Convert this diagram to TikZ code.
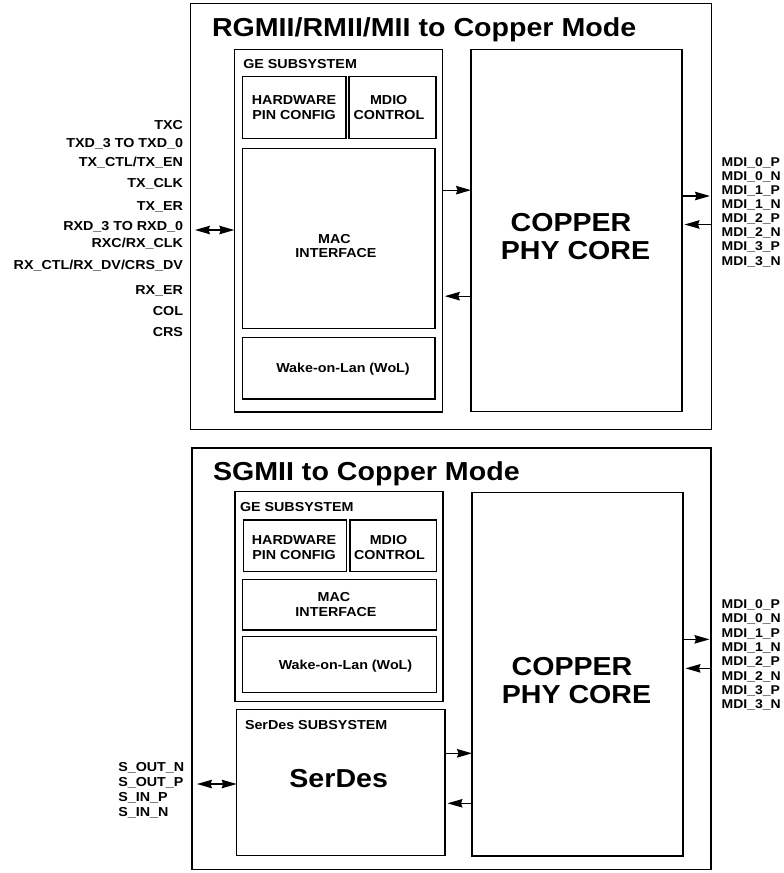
\documentclass[tikz,border=0pt]{standalone}
\usepackage{fontspec}
\setmainfont{Liberation Sans}[FakeStretch=1.1]
\usetikzlibrary{arrows.meta}
\newcommand\fsz[1]{\fontsize{#1}{#1}\selectfont}
\begin{document}
\begin{tikzpicture}[x=1pt,y=-1pt,
  blk/.style={draw, line width=1.5pt, inner sep=0pt, outer sep=0pt},
  txt/.style={inner sep=0pt, outer sep=0pt, font=\bfseries\fsz{13}, anchor=base},
  lft/.style={txt, anchor=base east},
  big/.style={inner sep=0pt, outer sep=0pt, font=\bfseries\fsz{26}, anchor=base},
  ttl/.style={inner sep=0pt, outer sep=0pt, font=\bfseries\fsz{26}, anchor=base west},
  mdi/.style={inner sep=0pt, outer sep=0pt, font=\bfseries\fsz{12.7}, anchor=base west},
  tip/.tip={Stealth[length=15pt,width=8.5pt,inset=1.5pt]},
  arr/.style={line width=1.3pt, -tip},
  darr/.style={line width=1.3pt, tip-tip},
]
\useasboundingbox (0,0) rectangle (784,873);

% ---------------- top diagram ----------------
\node[blk, minimum width=521pt, minimum height=426pt] (frame1) at (451,216.5) {};
\node[ttl] (title1) at (212,36.7) {RGMII/RMII/MII to Copper Mode};

\node[blk, minimum width=208pt, minimum height=362.7pt] (ge1) at (338.3,230.65) {};
\node[txt, anchor=base west] (ge1t) at (243.3,68.3) {GE SUBSYSTEM};
\node[blk, minimum width=103.3pt, minimum height=61.6pt] (hw1) at (294.35,107.5) {};
\node[txt] (hw1a) at (294,104) {HARDWARE};
\node[txt] (hw1b) at (294,119) {PIN CONFIG};
\node[blk, minimum width=87pt, minimum height=61.6pt] (mdio1) at (392.5,107.5) {};
\node[txt] (mdio1a) at (388.7,104) {MDIO};
\node[txt] (mdio1b) at (389,119) {CONTROL};
\node[blk, minimum width=192.7pt, minimum height=180pt] (mac1) at (338.65,238.3) {};
\node[txt] (mac1a) at (334.5,243.3) {MAC};
\node[txt] (mac1b) at (336,257.3) {INTERFACE};
\node[blk, minimum width=192.7pt, minimum height=61.3pt] (wol1) at (338.65,368.35) {};
\node[txt] (wol1t) at (343,372.5) {Wake-on-Lan (WoL)};

\node[blk, minimum width=211pt, minimum height=362.2pt] (phy1) at (576.5,230.4) {};
\node[big] (phy1a) at (571,231.7) {COPPER};
\node[big] (phy1b) at (575.5,259.3) {PHY CORE};

% left pin labels
\node[lft] (p1) at (183,129.3) {TXC};
\node[lft] (p2) at (183,147.3) {TXD\_3 TO TXD\_0\ };
\node[lft] (p3) at (183,166.7) {TX\_CTL/TX\_EN};
\node[lft] (p4) at (183,187.3) {TX\_CLK};
\node[lft] (p5) at (183,210) {TX\_ER};
\node[lft] (p6) at (183,230) {RXD\_3 TO RXD\_0};
\node[lft] (p7) at (183,247.7) {RXC/RX\_CLK};
\node[lft] (p8) at (183,269) {RX\_CTL/RX\_DV/CRS\_DV};
\node[lft] (p9) at (183,294) {RX\_ER};
\node[lft] (p10) at (183,315) {COL};
\node[lft] (p11) at (183,336) {CRS};

% right MDI labels
\node[mdi] (m10) at (721.7,166.0) {MDI\_0\_P};
\node[mdi] (m11) at (721.7,180.1) {MDI\_0\_N};
\node[mdi] (m12) at (721.7,194.3) {MDI\_1\_P};
\node[mdi] (m13) at (721.7,208.4) {MDI\_1\_N};
\node[mdi] (m14) at (721.7,222.6) {MDI\_2\_P};
\node[mdi] (m15) at (721.7,236.7) {MDI\_2\_N};
\node[mdi] (m16) at (721.7,250.9) {MDI\_3\_P};
\node[mdi] (m17) at (721.7,265.0) {MDI\_3\_N};

% top connectors
\coordinate (l1) at (195,230);
\draw[darr] (l1) -- (l1 -| ge1.west);
\coordinate (g1a) at ([yshift=40.5pt]ge1.east);
\coordinate (g1b) at ([yshift=-65.5pt]ge1.east);
\draw[arr] (g1a) -- (g1a -| phy1.west);
\draw[arr, shorten >=2.5pt] (g1b -| phy1.west) -- (g1b);
\coordinate (r1a) at ([yshift=34.4pt]phy1.east);
\coordinate (r1b) at ([yshift=5.9pt]phy1.east);
\draw[arr, shorten >=1.5pt] (r1a) -- (r1a -| frame1.east);
\draw[arr, shorten >=2.5pt] (r1b -| frame1.east) -- (r1b);

% ---------------- bottom diagram ----------------
\node[blk, minimum width=519pt, minimum height=421.5pt] (frame2) at (451.5,658.75) {};
\node[ttl] (title2) at (213,480) {SGMII to Copper Mode};

\node[blk, minimum width=208pt, minimum height=210pt] (ge2) at (339,596.7) {};
\node[txt, anchor=base west] (ge2t) at (240,511) {GE SUBSYSTEM};
\node[blk, minimum width=103.4pt, minimum height=51.7pt] (hw2) at (295,545.85) {};
\node[txt] (hw2a) at (294,544.3) {HARDWARE};
\node[txt] (hw2b) at (294,559) {PIN CONFIG};
\node[blk, minimum width=86.7pt, minimum height=51.7pt] (mdio2) at (393.35,545.85) {};
\node[txt] (mdio2a) at (388.5,544.3) {MDIO};
\node[txt] (mdio2b) at (389.5,559) {CONTROL};
\node[blk, minimum width=194pt, minimum height=50.7pt] (mac2) at (339.7,604.65) {};
\node[txt] (mac2a) at (334,601) {MAC};
\node[txt] (mac2b) at (336,616) {INTERFACE};
\node[blk, minimum width=194pt, minimum height=56pt] (wol2) at (339.7,664.7) {};
\node[txt] (wol2t) at (345.5,669.3) {Wake-on-Lan (WoL)};

\node[blk, minimum width=208.3pt, minimum height=146.4pt] (serdes) at (340.85,782.5) {};
\node[txt, anchor=base west] (serdest) at (245,729) {SerDes SUBSYSTEM};
\node[big] (serdesb) at (338.7,787.3) {SerDes};

\node[blk, minimum width=211pt, minimum height=363.3pt] (phy2) at (577.5,674.35) {};
\node[big] (phy2a) at (572,675) {COPPER};
\node[big] (phy2b) at (576.5,703) {PHY CORE};

% S pins
\node[mdi, font=\bfseries\fsz{13}] (s1) at (118.3,771.7) {S\_OUT\_N};
\node[mdi, font=\bfseries\fsz{13}] (s2) at (118.3,786.7) {S\_OUT\_P};
\node[mdi, font=\bfseries\fsz{13}] (s3) at (118.3,801.7) {S\_IN\_P};
\node[mdi, font=\bfseries\fsz{13}] (s4) at (118.3,816.7) {S\_IN\_N};

% right MDI labels bottom
\node[mdi] (m20) at (721.7,608.5) {MDI\_0\_P};
\node[mdi] (m21) at (721.7,622.8) {MDI\_0\_N};
\node[mdi] (m22) at (721.7,637.1) {MDI\_1\_P};
\node[mdi] (m23) at (721.7,651.4) {MDI\_1\_N};
\node[mdi] (m24) at (721.7,665.7) {MDI\_2\_P};
\node[mdi] (m25) at (721.7,680.0) {MDI\_2\_N};
\node[mdi] (m26) at (721.7,694.3) {MDI\_3\_P};
\node[mdi] (m27) at (721.7,708.6) {MDI\_3\_N};

% bottom connectors
\coordinate (l2) at (197,784);
\draw[darr] (l2) -- (l2 -| serdes.west);
\coordinate (s2a) at ([yshift=29.2pt]serdes.east);
\coordinate (s2b) at ([yshift=-20.8pt]serdes.east);
\draw[arr] (s2a) -- (s2a -| phy2.west);
\draw[arr, shorten >=2.5pt] (s2b -| phy2.west) -- (s2b);
\coordinate (r2a) at ([yshift=35pt]phy2.east);
\coordinate (r2b) at ([yshift=6pt]phy2.east);
\draw[arr, shorten >=1.5pt] (r2a) -- (r2a -| frame2.east);
\draw[arr, shorten >=2.5pt] (r2b -| frame2.east) -- (r2b);
\end{tikzpicture}
\end{document}
